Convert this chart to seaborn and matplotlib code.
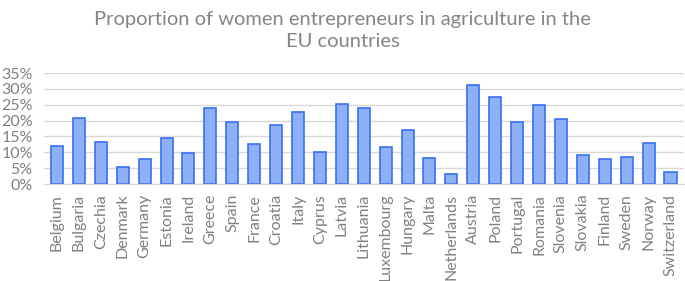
import matplotlib
matplotlib.use("Agg")
import matplotlib.pyplot as plt
import seaborn as sns
import pandas as pd
from matplotlib.ticker import PercentFormatter

countries = ["Belgium", "Bulgaria", "Czechia", "Denmark", "Germany", "Estonia", "Ireland",
             "Greece", "Spain", "France", "Croatia", "Italy", "Cyprus", "Latvia", "Lithuania",
             "Luxembourg", "Hungary", "Malta", "Netherlands", "Austria", "Poland", "Portugal",
             "Romania", "Slovenia", "Slovakia", "Finland", "Sweden", "Norway", "Switzerland"]
shares = [11.9, 20.9, 13.3, 5.5, 7.9, 14.4, 9.7, 23.9, 19.5, 12.6, 18.6, 22.8, 10.2, 25.3,
          24.1, 11.8, 17.2, 8.2, 3.2, 31.3, 27.5, 19.5, 24.8, 20.4, 9.2, 7.9, 8.5, 13.0, 3.9]
yticks = [0, 5, 10, 15, 20, 25, 30, 35]
title = "Proportion of women entrepreneurs in agriculture in the\nEU countries"

sns.set_style("white")
plt.rcParams['font.family'] = ['Lato', 'DejaVu Sans']

df = pd.DataFrame({"country": countries, "share": shares})

fig = plt.figure(figsize=(6.85, 2.81), dpi=100)
ax = fig.add_axes([0.064, 0.345, 0.934, 0.395])
sns.barplot(data=df, x="country", y="share", ax=ax, color="#8DB0F6",
            edgecolor="#3A70F2", linewidth=1.2, width=0.55, saturation=1)

ax.set_ylim(0, 35)
ax.set_yticks(yticks)
ax.yaxis.set_major_formatter(PercentFormatter(decimals=0))
ax.set_xlim(-0.6, len(countries) - 0.4)
ax.grid(axis="y", color="#D9D9D9", linewidth=1)
ax.set_axisbelow(True)
for s in ["top", "right", "left"]:
    ax.spines[s].set_visible(False)
ax.spines["bottom"].set_color("#D9D9D9")
ax.tick_params(axis="both", length=0, colors="#808080", labelsize=11.5)
ax.tick_params(axis="y", pad=8)
ax.tick_params(axis="x", pad=7)
plt.setp(ax.get_xticklabels(), rotation=90)
ax.set_xlabel("")
ax.set_ylabel("")
fig.text(0.5, 0.96, title, ha="center", va="top", fontsize=14.5, color="#858585",
         linespacing=1.35)

fig.savefig("out.png", dpi=100)
